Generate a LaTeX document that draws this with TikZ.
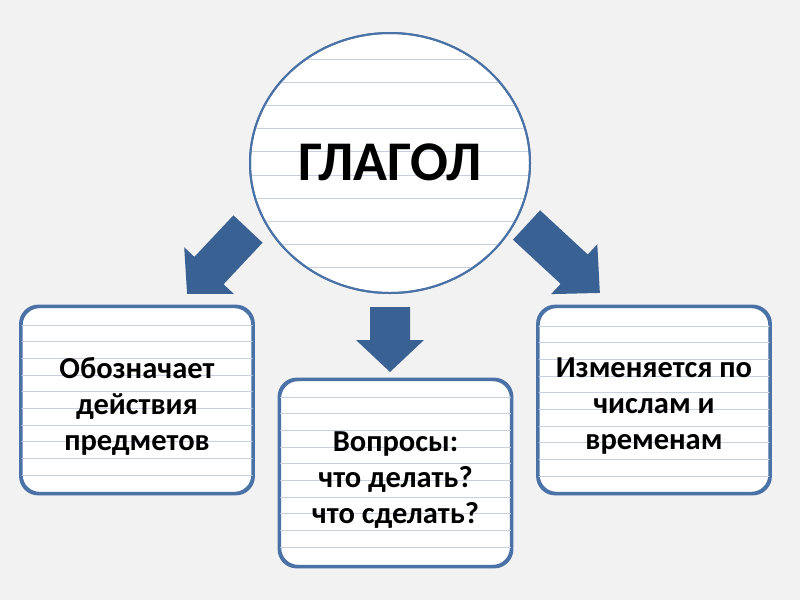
\documentclass[tikz,border=0pt]{standalone}
\usepackage{fontspec}
\setmainfont{Carlito}
\usetikzlibrary{shapes.geometric,shadows}
\definecolor{bg}{HTML}{F2F2F2}
\definecolor{edgeblue}{HTML}{4A72A6}
\definecolor{arrowblue}{HTML}{3A6193}
\definecolor{rulecol}{HTML}{C6D0E1}
\tikzset{
  box/.style={draw=edgeblue, line width=2.4pt, fill=white, rounded corners=18pt,
    minimum width=231pt, minimum height=186pt, align=center, inner sep=0pt,
    drop shadow={shadow xshift=-1.5pt, shadow yshift=-2pt, opacity=0.25, fill=black}},
  boxtext/.style={align=center, font=\fontsize{30.5}{36}\selectfont\bfseries},
  verbnode/.style={ellipse, draw=edgeblue, line width=2pt, fill=white,
    minimum width=280pt, minimum height=260pt, inner sep=0pt},
  verbtext/.style={font=\fontsize{56}{60}\selectfont\bfseries},
  arrowfill/.style={fill=arrowblue},
  ruleline/.style={draw=rulecol, line width=1pt},
}
\newcommand{\blkarrow}[4]{%
  \fill[arrowfill, shift={(#1)}, rotate=#2]
    (0,-20) -- (#3,-20) -- (#3,-34) -- (#4,0) -- (#3,34) -- (#3,20) -- (0,20) -- cycle;}
\begin{document}
\begin{tikzpicture}[x=1pt, y=-1pt]
  \fill[bg] (0,0) rectangle (800,600);
  \useasboundingbox (0,0) rectangle (800,600);

  % arrows (start points)
  \coordinate (aL) at (248,229);
  \coordinate (aM) at (390,307);
  \coordinate (aR) at (526.5,225);
  \blkarrow{aL}{226.8}{57}{89}
  \blkarrow{aM}{270}{33}{65}
  \blkarrow{aR}{317.2}{65}{100}

  % central ellipse
  \node[verbnode] (verb) at (390,163) {};
  \begin{scope}
    \clip (390,163) ellipse [x radius=139, y radius=129];
    \foreach \yy in {0,...,9} {
      \draw[ruleline] (240,59+23.2*\yy) -- (540,59+23.2*\yy);
    }
  \end{scope}
  \draw[edgeblue, line width=2pt] (390,163) ellipse [x radius=140, y radius=130];
  \node[verbtext] (verbtext) at ([yshift=1pt]verb.center) {ГЛАГОЛ};

  % boxes
  \node[box] (left) at (137,400) {};
  \node[box] (mid) at (395.5,473) {};
  \node[box] (right) at (654,400) {};

  \begin{scope}
    \clip[rounded corners=17pt] (left.north west) rectangle (left.south east);
    \foreach \yy in {0,...,9} { \draw[ruleline] (20,325+16.7*\yy) -- (260,325+16.7*\yy); }
  \end{scope}
  \begin{scope}
    \clip[rounded corners=17pt] (mid.north west) rectangle (mid.south east);
    \foreach \yy in {0,...,9} { \draw[ruleline] (270,397+16.7*\yy) -- (520,397+16.7*\yy); }
  \end{scope}
  \begin{scope}
    \clip[rounded corners=17pt] (right.north west) rectangle (right.south east);
    \foreach \yy in {0,...,9} { \draw[ruleline] (530,326+16.7*\yy) -- (780,326+16.7*\yy); }
  \end{scope}
  \draw[edgeblue, line width=2.4pt, rounded corners=18pt] (left.north west) rectangle (left.south east);
  \draw[edgeblue, line width=2.4pt, rounded corners=18pt] (mid.north west) rectangle (mid.south east);
  \draw[edgeblue, line width=2.4pt, rounded corners=18pt] (right.north west) rectangle (right.south east);

  \node[boxtext] (lefttext) at ([yshift=-6pt]left.center)
    {Обозначает\\действия\\предметов};
  \node[boxtext] (midtext) at ([yshift=-7pt]mid.center)
    {Вопросы:\\что делать?\\что сделать?};
  \node[boxtext] (righttext) at ([yshift=-6pt]right.center)
    {Изменяется по\\числам и\\временам};
\end{tikzpicture}
\end{document}
